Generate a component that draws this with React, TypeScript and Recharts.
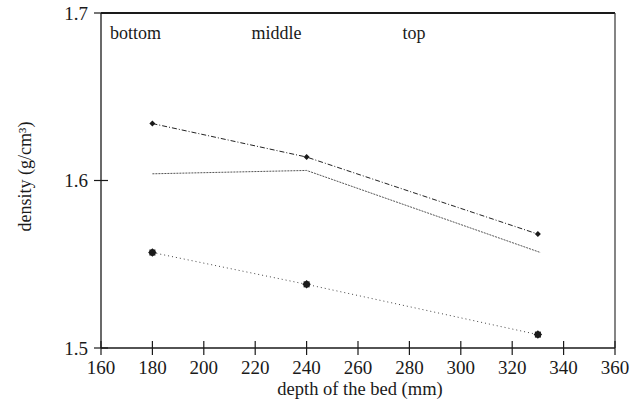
import React from 'react';
import { LineChart, Line, XAxis, YAxis, ReferenceDot } from 'recharts';

// depth of the bed (mm)
const depthA = [180, 240, 330];
const densityA = [1.634, 1.614, 1.568];

const depthB = [180, 240, 331];
const densityB = [1.604, 1.606, 1.557];

const depthC = [180, 240, 330];
const densityC = [1.557, 1.538, 1.508];

const xTicks = [160, 180, 200, 220, 240, 260, 280, 300, 320, 340, 360];
const yTicks = [1.5, 1.6, 1.7];

const zoneNames = ['bottom', 'middle', 'top'];
const zoneDepth = [163.5, 218.6, 277.3];
const zoneLevel = 1.6845;

const seriesA = depthA.map((d, i) => ({ depth: d, density: densityA[i] }));
const seriesB = depthB.map((d, i) => ({ depth: d, density: densityB[i] }));
const seriesC = depthC.map((d, i) => ({ depth: d, density: densityC[i] }));

const FONT = "'Liberation Serif', 'DejaVu Serif', serif";
const INK = '#1a1a1a';
const TICK = 7;
const X_MARGIN = 6;
const Y_MARGIN = 6;

const XTick = (props: any) => {
  const { x, y, payload } = props;
  const axisY = y - TICK - X_MARGIN;
  return (
    <g>
      <line x1={x} x2={x} y1={axisY} y2={axisY - TICK} stroke={INK} strokeWidth={1.2} />
      <text x={x} y={y} dy="0.71em" textAnchor="middle" fontFamily={FONT} fontSize={19} fill={INK}>
        {payload.value}
      </text>
    </g>
  );
};

const YTick = (props: any) => {
  const { x, y, payload } = props;
  const axisX = x + TICK + Y_MARGIN;
  return (
    <g>
      <line x1={axisX} x2={axisX + TICK} y1={y} y2={y} stroke={INK} strokeWidth={1.2} />
      <text x={x} y={y} dy="0.355em" textAnchor="end" fontFamily={FONT} fontSize={19} fill={INK}>
        {payload.value.toFixed(1)}
      </text>
    </g>
  );
};

const Diamond = (props: any) => {
  const { cx, cy, index } = props;
  if (cx == null || cy == null) return <g key={index} />;
  return (
    <polygon
      key={index}
      points={`${cx},${cy - 3} ${cx + 3},${cy} ${cx},${cy + 3} ${cx - 3},${cy}`}
      fill={INK}
    />
  );
};

const Star = (props: any) => {
  const { cx, cy, index } = props;
  if (cx == null || cy == null) return <g key={index} />;
  return (
    <g key={index}>
      <rect x={cx - 3} y={cy - 3} width={6} height={6} fill={INK} />
      <rect x={cx - 3} y={cy - 3} width={6} height={6} fill={INK} transform={`rotate(45 ${cx} ${cy})`} />
    </g>
  );
};

const zoneLabel = (name: string) => (props: any) => {
  const { viewBox } = props;
  return (
    <text x={viewBox.x} y={viewBox.y} fontFamily={FONT} fontSize={18} fill={INK}>
      {name}
    </text>
  );
};

export default function App() {
  return (
    <div style={{ position: 'absolute', left: 0, top: 0, background: '#fff' }}>
      <LineChart width={642} height={403} margin={{ top: 12, right: 26, bottom: 0, left: 0 }}>
        <XAxis
          type="number"
          dataKey="depth"
          domain={[160, 360]}
          ticks={xTicks}
          allowDuplicatedCategory={false}
          height={55}
          tickSize={TICK}
          tickMargin={X_MARGIN}
          tick={<XTick />}
          tickLine={{ stroke: INK, strokeWidth: 1.2 }}
          axisLine={{ stroke: INK, strokeWidth: 1.3 }}
          label={{
            content: (p: any) => {
              const vb = p.viewBox;
              return (
                <text
                  x={vb.x + vb.width / 2 + 2}
                  y={vb.y + 47}
                  textAnchor="middle"
                  fontFamily={FONT}
                  fontSize={18.5}
                  fill={INK}
                >
                  depth of the bed (mm)
                </text>
              );
            },
          }}
        />
        <XAxis
          xAxisId="top"
          orientation="top"
          type="number"
          domain={[160, 360]}
          height={1}
          tick={false}
          tickLine={false}
          axisLine={{ stroke: INK, strokeWidth: 2.2 }}
        />
        <YAxis
          type="number"
          domain={[1.5, 1.7]}
          ticks={yTicks}
          width={101}
          tickSize={TICK}
          tickMargin={Y_MARGIN}
          tick={<YTick />}
          tickLine={{ stroke: INK, strokeWidth: 1.2 }}
          axisLine={{ stroke: INK, strokeWidth: 1.3 }}
          label={{
            content: (p: any) => {
              const vb = p.viewBox;
              const cx = vb.x + 25;
              const cy = vb.y + vb.height / 2 - 4;
              return (
                <text
                  x={cx}
                  y={cy}
                  dy="0.35em"
                  textAnchor="middle"
                  transform={`rotate(-90 ${cx} ${cy})`}
                  fontFamily={FONT}
                  fontSize={18}
                  fill={INK}
                >
                  density (g/cm³)
                </text>
              );
            },
          }}
        />
        <YAxis
          yAxisId="right"
          orientation="right"
          type="number"
          domain={[1.5, 1.7]}
          width={1}
          tick={false}
          tickLine={false}
          axisLine={{ stroke: '#333', strokeWidth: 1.2 }}
        />
        <Line
          data={seriesA}
          dataKey="density"
          type="linear"
          stroke="#222"
          strokeWidth={1}
          strokeDasharray="5 2 1 2"
          dot={Diamond}
          isAnimationActive={false}
        />
        <Line
          data={seriesB}
          dataKey="density"
          type="linear"
          stroke="#555"
          strokeWidth={1}
          strokeDasharray="2 1"
          dot={false}
          isAnimationActive={false}
        />
        <Line
          data={seriesC}
          dataKey="density"
          type="linear"
          stroke="#444"
          strokeWidth={1}
          strokeDasharray="1 3"
          dot={Star}
          isAnimationActive={false}
        />
        {zoneNames.map((name, i) => (
          <ReferenceDot
            key={name}
            x={zoneDepth[i]}
            y={zoneLevel}
            r={0}
            stroke="none"
            fill="none"
            label={{ content: zoneLabel(name) }}
          />
        ))}
      </LineChart>
    </div>
  );
}
